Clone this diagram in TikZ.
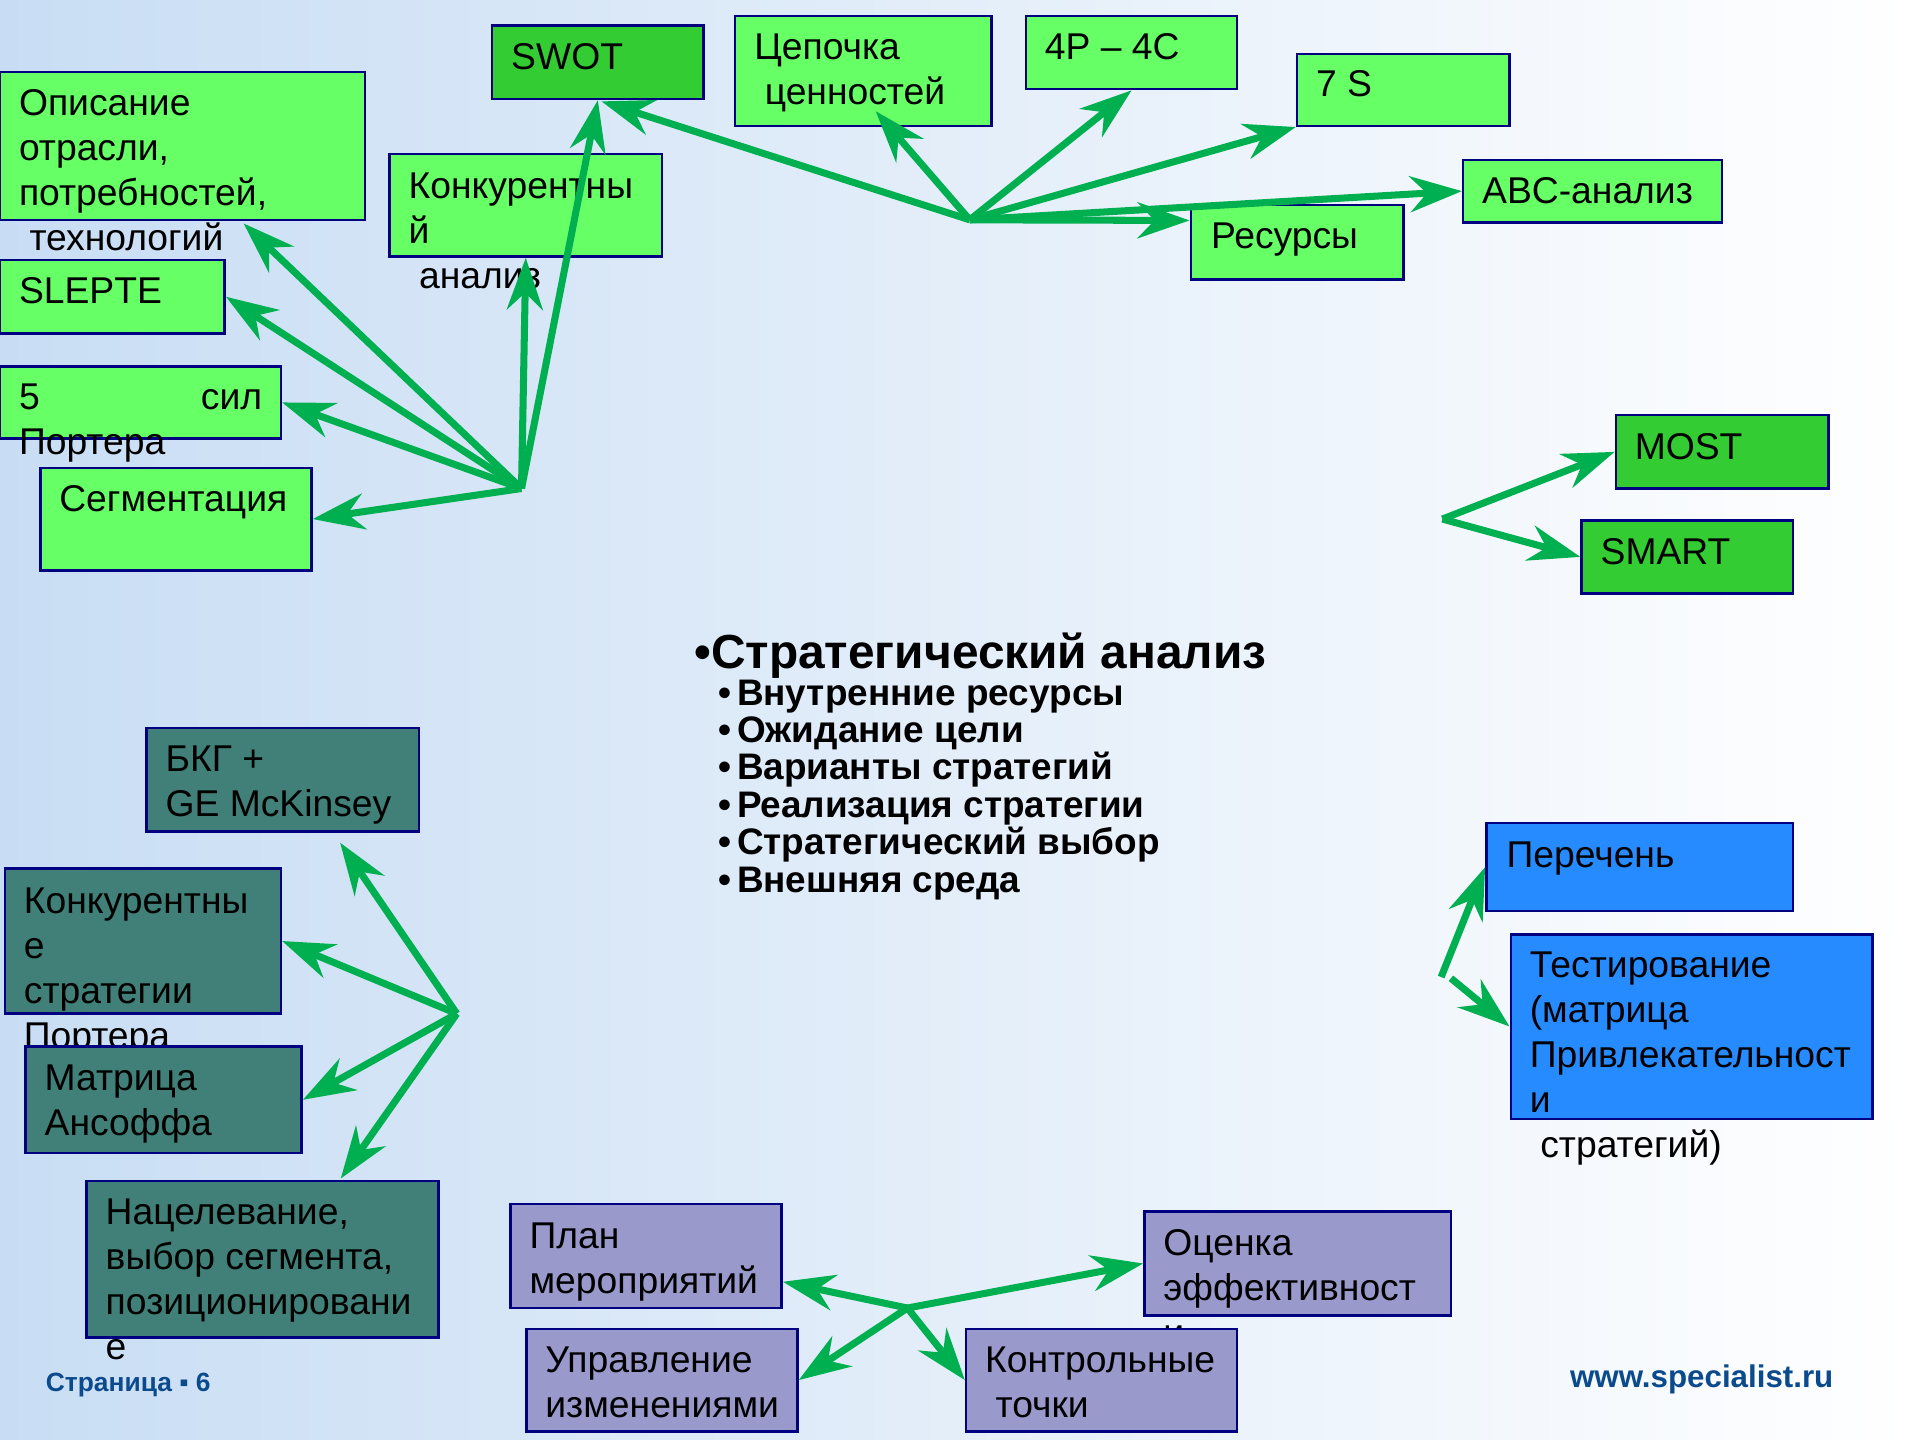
\documentclass[tikz,border=0pt]{standalone}
\usepackage{fontspec}
\setmainfont{Liberation Sans}
\usetikzlibrary{arrows.meta,fit}
\definecolor{lgreen}{RGB}{102,255,102}
\definecolor{dgreen}{RGB}{51,204,51}
\definecolor{boxteal}{RGB}{64,128,120}
\definecolor{boxviolet}{RGB}{153,153,204}
\definecolor{boxblue}{RGB}{38,139,255}
\definecolor{edgenavy}{RGB}{0,0,128}
\definecolor{arrgreen}{RGB}{0,176,80}
\definecolor{footblue}{RGB}{11,74,140}
\definecolor{bgblue}{RGB}{200,221,244}
\definecolor{bgmid}{RGB}{234,242,251}
\def\boxfont{\fontsize{10.6}{12.8}\selectfont}
\def\headfont{\fontsize{13.6}{16}\selectfont\bfseries}
\def\itemfont{\fontsize{10.5}{10.63}\selectfont\bfseries}

\begin{document}
\begin{tikzpicture}[x=0.012213cm,y=-0.012213cm,
    box/.style={draw=edgenavy,line width=0.7pt,inner sep=0pt},
    lgbox/.style={box,fill=lgreen},
    dgbox/.style={box,fill=dgreen},
    tealbox/.style={box,fill=boxteal},
    violetbox/.style={box,fill=boxviolet},
    bluebox/.style={box,fill=boxblue},
    txt/.style={font=\boxfont,align=left,anchor=north west,inner sep=0pt},
    arr/.style={draw=arrgreen,line width=2pt,-{Stealth[length=5.2mm,width=3.6mm,inset=1.7mm]}}]
  \useasboundingbox (0,0) rectangle (1568,1179);
  \fill[left color=bgblue,middle color=bgmid,right color=white] (0,0) rectangle (1568,1179);

  % analysis boxes, top
  \node[lgbox,fit={(0,59) (299,180)}] (opis) {};
  \node[txt] (opistxt) at (15,73) {Описание\\отрасли,\\потребностей,\\\hspace*{3pt}технологий};
  \node[dgbox,fit={(403,21) (576,81)}] (swot) {};
  \node[txt] (swottxt) at (418,35) {SWOT};
  \node[lgbox,fit={(319,126) (542,210)}] (konk) {};
  \node[txt] (konktxt) at (334,141) {Конкурентны\\й\\\hspace*{3pt}анализ};
  \node[lgbox,fit={(602,13) (812,103)}] (cep) {};
  \node[txt] (ceptxt) at (617,27) {Цепочка\\\hspace*{3pt}ценностей};
  \node[lgbox,fit={(840,13) (1013,73)}] (p4) {};
  \node[txt] (p4txt) at (855,27) {4P – 4C};
  \node[lgbox,fit={(1062,44) (1236,103)}] (s7) {};
  \node[txt] (s7txt) at (1077,57) {7 S};
  \node[lgbox,fit={(1198,131) (1410,182)}] (abc) {};
  \node[txt] (abctxt) at (1213,145) {ABC-анализ};
  \node[lgbox,fit={(975,168) (1149,229)}] (res) {};
  \node[txt] (restxt) at (991,182) {Ресурсы};
  \node[lgbox,fit={(0,213) (184,273)}] (slepte) {};
  \node[txt] (sleptetxt) at (15,227) {SLEPTE};
  \node[lgbox,fit={(0,300) (230,359)}] (sil) {};
  \node[txt] (siltxt) at (15,314) {\makebox[24.3mm][l]{5\hfill сил}\\Портера};
  \node[lgbox,fit={(33,383) (255,467)}] (segm) {};
  \node[txt] (segmtxt) at (48,397) {Сегментация};

  % goals
  \node[dgbox,fit={(1323,340) (1497,400)}] (most) {};
  \node[txt] (mosttxt) at (1338,354) {MOST};
  \node[dgbox,fit={(1295,426) (1468,486)}] (smart) {};
  \node[txt] (smarttxt) at (1310,440) {SMART};

  % strategy options
  \node[tealbox,fit={(120,596) (343,681)}] (bkg) {};
  \node[txt] (bkgtxt) at (135,610) {БКГ +\\GE McKinsey};
  \node[tealbox,fit={(4,711) (230,830)}] (kstr) {};
  \node[txt] (kstrtxt) at (19,726) {Конкурентны\\е\\стратегии\\Портера};
  \node[tealbox,fit={(21,857) (247,944)}] (ansoff) {};
  \node[txt] (ansofftxt) at (36,871) {Матрица\\Ансоффа};
  \node[tealbox,fit={(71,967) (359,1095)}] (nacel) {};
  \node[txt] (naceltxt) at (86,981) {Нацелевание,\\выбор сегмента,\\позиционировани\\е};

  % choice
  \node[bluebox,fit={(1217,674) (1468,746)}] (perech) {};
  \node[txt] (perechtxt) at (1233,689) {Перечень};
  \node[bluebox,fit={(1237,765) (1533,916)}] (test) {};
  \node[txt] (testtxt) at (1252,779) {Тестирование\\(матрица\\Привлекательност\\и\\\hspace*{3pt}стратегий)};

  % implementation
  \node[violetbox,fit={(418,986) (640,1071)}] (plan) {};
  \node[txt] (plantxt) at (433,1001) {План\\мероприятий};
  \node[violetbox,fit={(431,1088) (653,1172)}] (upr) {};
  \node[txt] (uprtxt) at (446,1102) {Управление\\изменениями};
  \node[violetbox,fit={(937,992) (1188,1077)}] (ocen) {};
  \node[txt] (ocentxt) at (952,1006) {Оценка\\эффективност\\и};
  \node[violetbox,fit={(791,1088) (1013,1172)}] (kontr) {};
  \node[txt] (kontrtxt) at (806,1102) {Контрольные\\\hspace*{3pt}точки};

  % centre text
  \node[font=\headfont,anchor=north west,inner sep=0pt] (title) at (568,518) {•Стратегический анализ};
  \node[font=\itemfont,align=left,anchor=north west,inner sep=0pt] (items) at (588,556)
    {•\hspace{1.5pt}Внутренние ресурсы\\•\hspace{1.5pt}Ожидание цели\\•\hspace{1.5pt}Варианты стратегий\\%
     •\hspace{1.5pt}Реализация стратегии\\•\hspace{1.5pt}Стратегический выбор\\•\hspace{1.5pt}Внешняя среда};

  % footer
  \node[font=\fontsize{7.5}{9}\selectfont\bfseries,text=footblue,anchor=base west,inner sep=0pt] (page) at (37,1139) {Страница ▪ 6};
  \node[font=\fontsize{8.9}{10}\selectfont\bfseries,text=footblue,anchor=base west,inner sep=0pt] (site) at (1285,1136) {www.specialist.ru};

  % arrows
  \coordinate (hubA) at (427,400);
  \draw[arr] (hubA) -- ([shift={(50,2)}]opis.south);
  \draw[arr] (hubA) -- (slepte.east);
  \draw[arr] (hubA) -- (sil.east);
  \draw[arr] (hubA) -- (segm.east);
  \draw[arr] (hubA) -- (konk.south);
  \draw[arr] (hubA) -- (swot.south);

  \coordinate (hubB) at (794,180);
  \draw[arr] (hubB) -- ([shift={(3,1)}]swot.south);
  \draw[arr] (hubB) -- ([shift={(10,-13)}]cep.south);
  \draw[arr] (hubB) -- (p4.south);
  \draw[arr] (hubB) -- (s7.south west);
  \draw[arr] (hubB) -- ([shift={(0,-18)}]res.west);
  \draw[arr] (hubB) -- (abc.west);

  \coordinate (hubC) at (1181,425);
  \draw[arr] (hubC) -- (most.west);
  \draw[arr] (hubC) -- (smart.west);

  \coordinate (hubD) at (374,830);
  \draw[arr] (hubD) -- ([shift={(47,8)}]bkg.south);
  \draw[arr] (hubD) -- (kstr.east);
  \draw[arr] (hubD) -- (ansoff.east);
  \draw[arr] (hubD) -- ([shift={(64,-1)}]nacel.north);

  \coordinate (hubE) at (1180,800);
  \coordinate (hubE2) at (1188,801);
  \draw[arr] (hubE) -- (perech.west);
  \draw[arr] (hubE2) -- (test.west);

  \coordinate (hubF) at (743,1071);
  \draw[arr] (hubF) -- ([shift={(0,21)}]plan.east);
  \draw[arr] (hubF) -- (ocen.west);
  \draw[arr] (hubF) -- (upr.east);
  \draw[arr] (hubF) -- (kontr.west);
\end{tikzpicture}
\end{document}
